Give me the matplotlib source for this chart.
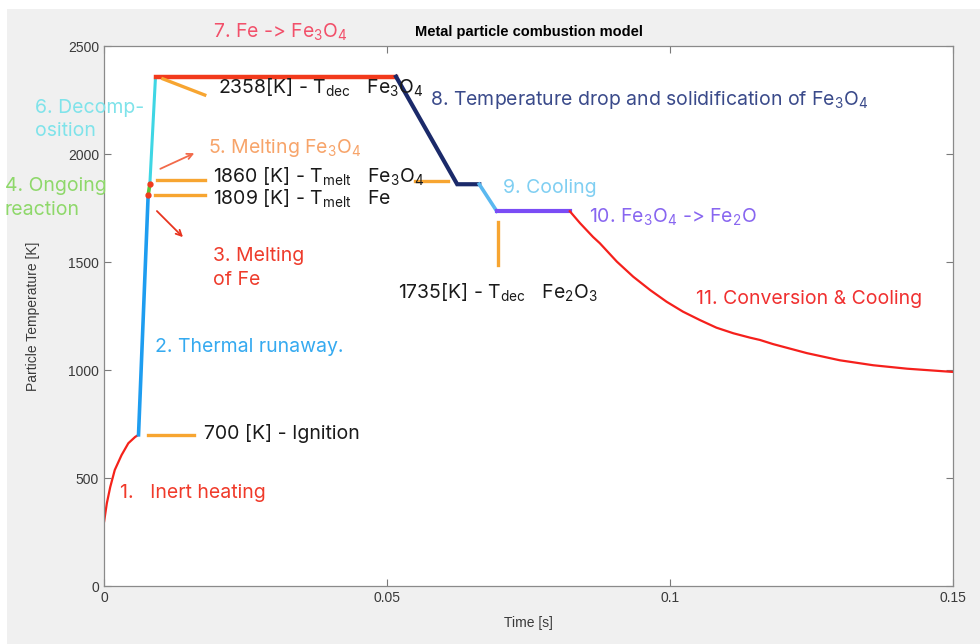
import numpy as np
import matplotlib.pyplot as plt
from matplotlib.patches import Rectangle

plt.rcParams['font.family'] = ['Liberation Sans', 'DejaVu Sans']
plt.rcParams['mathtext.fontset'] = 'custom'
plt.rcParams['mathtext.rm'] = 'Inter'
plt.rcParams['mathtext.it'] = 'Inter'

# temperature history, one segment per stage
inert_t = [0, 0.0005, 0.0011, 0.0019, 0.0031, 0.0043, 0.0055, 0.0061]
inert_T = [295, 383, 458, 537, 606, 661, 690, 700]
runaway_t = [0.0061, 0.0078]
runaway_T = [700, 1809]
ongoing_t = [0.0078, 0.0081]
ongoing_T = [1809, 1860]
decomp_t = [0.0081, 0.0091]
decomp_T = [1860, 2358]
oxid_t = [0.0091, 0.0516]
oxid_T = [2358, 2358]
drop_t = [0.0516, 0.0624, 0.0663]
drop_T = [2358, 1860, 1860]
cool_t = [0.0663, 0.0694]
cool_T = [1860, 1735]
fe2o_t = [0.0694, 0.0823]
fe2o_T = [1735, 1735]
conv_t = [0.0823, 0.0841, 0.0864, 0.0876, 0.0906, 0.0935, 0.0965, 0.0994,
          0.1023, 0.1053, 0.1082, 0.1112, 0.1141, 0.1159, 0.1182, 0.1242,
          0.1300, 0.1359, 0.1419, 0.15]
conv_T = [1735, 1680, 1616, 1587, 1502, 1432, 1370, 1316,
          1270, 1231, 1196, 1170, 1150, 1139, 1120, 1078,
          1045, 1022, 1006, 991]

# characteristic temperatures [K]
T_ign = 700
T_melt_fe = 1809
T_melt_fe3o4 = 1860
T_dec_fe3o4 = 2358
T_dec_fe2o3 = 1735

xticks = [0, 0.05, 0.1, 0.15]
xticklabels = ['0', '0.05', '0.1', '0.15']
yticks = [0, 500, 1000, 1500, 2000, 2500]

fig = plt.figure(figsize=(9.8, 6.44), dpi=100, facecolor='white')
fig.patches.append(Rectangle((7 / 980, 0), 1, 1 - 9 / 644, transform=fig.transFigure,
                             facecolor='#f0f0f0', edgecolor='none', zorder=-10))
ax = fig.add_axes([104 / 980, 58 / 644, 849 / 980, 540 / 644])
ax.set_facecolor('white')

ax.plot(inert_t, inert_T, color='#f5221a', lw=1.6, solid_capstyle='round')
ax.plot(runaway_t, runaway_T, color='#1e9df0', lw=2.6)
ax.plot(ongoing_t, ongoing_T, color='#58c53a', lw=2.6)
ax.plot(decomp_t, decomp_T, color='#3fd6e4', lw=2.2)
ax.plot(oxid_t, oxid_T, color='#f23a1c', lw=3.2)
ax.plot(drop_t, drop_T, color='#1b2a6a', lw=3.0, solid_joinstyle='miter')
ax.plot(cool_t, cool_T, color='#5ab8f0', lw=2.6)
ax.plot(fe2o_t, fe2o_T, color='#7a4cf5', lw=3.0)
ax.plot(conv_t, conv_T, color='#f5201c', lw=1.6, solid_joinstyle='round')
ax.plot([runaway_t[-1], ongoing_t[-1]], [T_melt_fe, T_melt_fe3o4], 'o',
        color='#f23a1c', ms=3.5, zorder=5)

orange = '#f7a531'
ax.plot([0.0078, 0.0159], [T_ign, T_ign], color=orange, lw=2.4)
ax.plot([0.0090, 0.0179], [T_melt_fe, T_melt_fe], color=orange, lw=2.4)
ax.plot([0.0094, 0.0179], [T_melt_fe3o4 + 20, T_melt_fe3o4 + 20], color=orange, lw=2.4)
ax.plot([0.0549, 0.0608], [T_melt_fe3o4 + 15, T_melt_fe3o4 + 15], color=orange, lw=2.4)
ax.plot([0.0104, 0.0178], [T_dec_fe3o4 - 10, T_dec_fe3o4 - 85], color=orange, lw=2.4)
ax.plot([0.0696, 0.0696], [T_dec_fe2o3 - 50, T_dec_fe2o3 - 250], color=orange, lw=2.4)

ax.annotate('', xy=(0.0164, 2009), xytext=(0.0095, 1926),
            arrowprops=dict(arrowstyle='->', color='#f26a4a', lw=1.3))
ax.annotate('', xy=(0.0143, 1606), xytext=(0.0090, 1745),
            arrowprops=dict(arrowstyle='->', color='#e8341f', lw=1.3))

lab = dict(family=['Inter', 'DejaVu Sans'], fontsize=14, va='center', ha='left', clip_on=False)
ax.text(0.0193, 2565, r'7. Fe -> Fe$_3$O$_4$', color='#f2506a', **lab)
ax.text(-0.0122, 2160, '6. Decomp-\nosition', color='#7fe3ea', linespacing=1.4, **lab)
ax.text(-0.0175, 1796, '4. Ongoing\nreaction', color='#8ed86a', linespacing=1.4, **lab)
ax.text(0.0184, 2028, r'5. Melting Fe$_3$O$_4$', color='#f7a46a', **lab)
ax.text(0.0193, 1894, r'%d [K] - T$_{\mathrm{melt}}$   Fe$_3$O$_4$' % T_melt_fe3o4,
        color='#1a1a1a', **lab)
ax.text(0.0193, 1792, r'%d [K] - T$_{\mathrm{melt}}$   Fe' % T_melt_fe,
        color='#1a1a1a', **lab)
ax.text(0.0193, 1472, '3. Melting\nof Fe', color='#ee3b2b', linespacing=1.4, **lab)
ax.text(0.0090, 1106, '2. Thermal runaway.', color='#35aaf0', **lab)
ax.text(0.0177, 704, '%d [K] - Ignition' % T_ign, color='#1a1a1a', **lab)
ax.text(0.0028, 431, '1.   Inert heating', color='#f03a2a', **lab)
ax.text(0.0201, 2306, r'%d[K] - T$_{\mathrm{dec}}$   Fe$_3$O$_4$' % T_dec_fe3o4,
        color='#1a1a1a', **lab)
ax.text(0.0576, 2250, r'8. Temperature drop and solidification of Fe$_3$O$_4$',
        color='#3a4a8a', **lab)
ax.text(0.0705, 1843, '9. Cooling', color='#80cff2', **lab)
ax.text(0.0857, 1708, r'10. Fe$_3$O$_4$ -> Fe$_2$O', color='#8866f0', **lab)
ax.text(0.0519, 1356, r'%d[K] - T$_{\mathrm{dec}}$   Fe$_2$O$_3$' % T_dec_fe2o3,
        color='#1a1a1a', **lab)
ax.text(0.1046, 1329, '11. Conversion & Cooling', color='#f03030', **lab)

ax.set_xlim(0, 0.15)
ax.set_ylim(0, 2500)
ax.set_xticks(xticks)
ax.set_xticklabels(xticklabels)
ax.set_yticks(yticks)
ax.tick_params(direction='in', top=True, right=True, length=5, width=0.8,
               colors='#7a7a7a', labelcolor='#3a3a3a', labelsize=10)
for s in ax.spines.values():
    s.set_color('#8a8a8a')
    s.set_linewidth(0.9)
ax.set_title('Metal particle combustion model', fontsize=10.5, fontweight='bold', pad=7)
ax.set_xlabel('Time [s]', fontsize=10, color='#3a3a3a', labelpad=8)
ax.set_ylabel('Particle Temperature [K]', fontsize=10, color='#3a3a3a', labelpad=20)

fig.savefig('out.png', dpi=100, facecolor=fig.get_facecolor())
